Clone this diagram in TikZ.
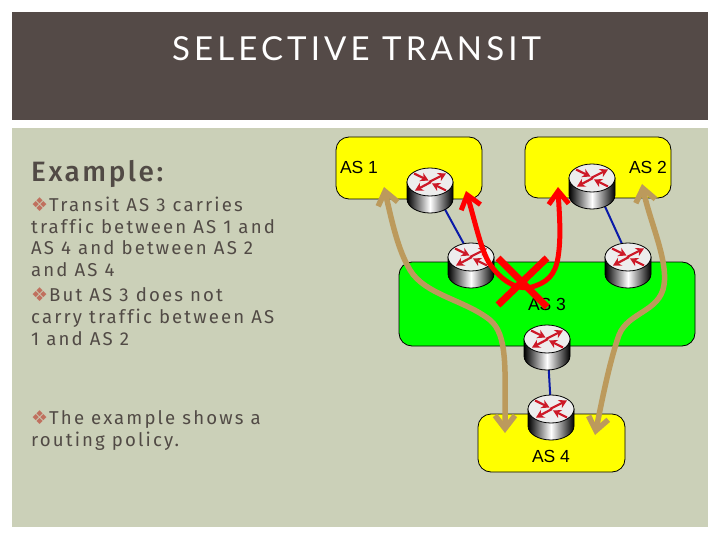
\documentclass[tikz,border=0pt]{standalone}
\usepackage{fontspec}
\usetikzlibrary{arrows.meta}
\setmainfont{Liberation Sans}
\newfontfamily\titlefont[LetterSpace=12.4]{Lato}
\newfontfamily\bodyfont[LetterSpace=11.5,Ligatures=NoCommon]{Fira Sans}
\newfontfamily\headfont[LetterSpace=9,Ligatures=NoCommon]{Fira Sans Medium}
\newfontfamily\symfont{DejaVu Sans}
\definecolor{band}{HTML}{544A47}
\definecolor{panel}{HTML}{CBD0B8}
\definecolor{ink}{HTML}{514A45}
\definecolor{bul}{HTML}{C0705E}
\definecolor{tan}{HTML}{BC9A5C}
\definecolor{aslink}{HTML}{0A1AA8}
\definecolor{asyellow}{HTML}{FFFF00}
\definecolor{asgreen}{HTML}{00FF00}
\definecolor{rred}{HTML}{FF0000}
\newcommand{\bul}{{\symfont\fontsize{19}{19}\selectfont\textcolor{bul}{\char"2756}}\kern1pt}
\tikzset{
  asbox/.style={draw=black,line width=0.8pt,rounded corners=13pt},
  aslabel/.style={font=\fontsize{17.5}{18}\selectfont,text=black,inner sep=0pt},
  para/.style={anchor=north west,align=left,inner sep=0pt,text=ink,font=\bodyfont\fontsize{18.6}{21.8}\selectfont},
  tanroute/.style={draw=tan,line width=5.5pt,{Straight Barb[length=13pt,width=20pt]}-{Straight Barb[length=13pt,width=20pt]}},
  redroute/.style={draw=rred,line width=5pt,{Straight Barb[length=13pt,width=20pt]}-{Straight Barb[length=13pt,width=20pt]}},
  crossbar/.style={draw=rred,line width=7pt},
  linkline/.style={draw=aslink,line width=2pt},
  rarrow/.style={draw={rgb,255:red,205;green,25;blue,40},line width=2.2pt,-{Stealth[length=8pt,width=9pt]}}
}
\newcommand{\routerat}[1]{%
  \begin{scope}[shift={(#1)}]
    \path[left color=black,right color=black,middle color=white,draw=black,line width=0.8pt]
      (-23,0) -- (-23,17) arc[start angle=180,end angle=0,x radius=23,y radius=14] -- (23,0) -- cycle;
    \draw[fill=white!93!black,draw=black,line width=0.8pt] (0,0) ellipse[x radius=23,y radius=14];
    \draw[rarrow] (-1,0) -- (16,-8.5);
    \draw[rarrow] (1,0) -- (-15,8.5);
    \draw[rarrow] (-16,-8.5) -- (-1.5,-1.5);
    \draw[rarrow] (16,8.5) -- (2,1.5);
  \end{scope}}
\begin{document}
\begin{tikzpicture}[x=1pt,y=-1pt]
\useasboundingbox (0,0) rectangle (720,540);
\fill[white] (0,0) rectangle (720,540);
\fill[band] (12,12) rectangle (708,120);
\fill[panel] (12,128) rectangle (708,527);
\node[anchor=base west,inner sep=0pt,text=white,font=\titlefont\fontsize{33}{36}\selectfont] (title) at (172,61) {SELECTIVE TRANSIT};
\node[anchor=base west,inner sep=0pt,text=ink,font=\headfont\fontsize{28}{30}\selectfont] (example) at (31,182) {Example:};
\node[para] (p1) at (31,196.5) {\bul Transit AS 3 carries\\traffic between AS 1 and\\AS 4 and between AS 2\\and AS 4};
\node[para] (p2) at (31,287.5) {\bul But AS 3 does not\\carry traffic between AS\\1 and AS 2};
\node[para] (p3) at (31,410.5) {\bul The example shows a\\routing policy.};
% AS areas
\draw[asbox,fill=asyellow] (336,137) rectangle (482,199);
\draw[asbox,fill=asyellow] (525,137) rectangle (671,198);
\draw[asbox,fill=asgreen] (399,262) rectangle (695,346);
\draw[asbox,fill=asyellow] (478,414) rectangle (625,472);
\node[aslabel] (as1) at (359,167) {AS 1};
\node[aslabel] (as2) at (648,167) {AS 2};
\node[aslabel] (as3) at (547,304) {AS 3};
\node[aslabel] (as4) at (551,456) {AS 4};
% routers
\coordinate (r1) at (430,182);
\coordinate (r2) at (471,257);
\coordinate (r3) at (592,178);
\coordinate (r4) at (628,257);
\coordinate (r5) at (547,339);
\coordinate (r6) at (551,409);
\coordinate (a1a) at (384,187);
\coordinate (a1b) at (505,433);
\coordinate (a2a) at (642,184);
\coordinate (a2b) at (595,435);
\coordinate (ra) at (466,191);
\coordinate (rb) at (558,187);
\draw[linkline] (r1) -- (r2);
\draw[linkline] (r3) -- (r4);
\draw[linkline] (r5) -- (r6);
\routerat{r1}\routerat{r2}\routerat{r3}\routerat{r4}\routerat{r5}\routerat{r6}
% routes
\draw[tanroute] (a1a) .. controls (392,222) and (398,250) .. (410,270)
  .. controls (425,295) and (465,300) .. (490,320)
  .. controls (508,335) and (505,370) .. (a1b);
\draw[tanroute] (a2a) .. controls (650,222) and (668,260) .. (664,285)
  .. controls (660,312) and (628,312) .. (619,335)
  .. controls (610,360) and (602,400) .. (a2b);
\draw[redroute] (ra) .. controls (476,225) and (482,255) .. (492,267)
  .. controls (503,282) and (520,292) .. (535,286)
  .. controls (552,280) and (557,270) .. (559,250)
  .. controls (561,230) and (559,210) .. (rb);
\coordinate (x1) at (498,258);
\coordinate (x2) at (547,307);
\coordinate (x3) at (547,258);
\coordinate (x4) at (498,305);
\draw[crossbar] (x1) -- (x2);
\draw[crossbar] (x3) -- (x4);
\end{tikzpicture}
\end{document}
